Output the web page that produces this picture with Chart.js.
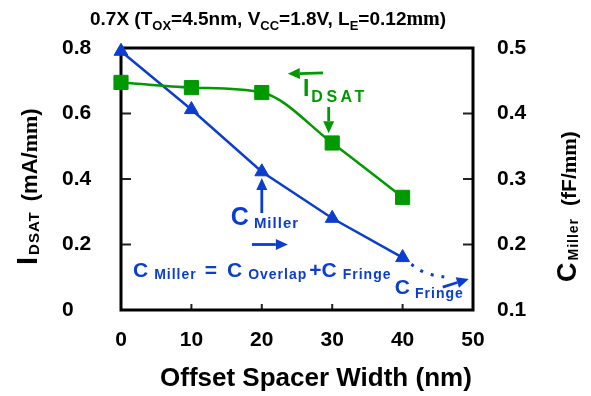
<!DOCTYPE html>
<html>
<head>
<meta charset="utf-8">
<script src="https://cdn.jsdelivr.net/npm/chart.js@4.4.0/dist/chart.umd.min.js"></script>
<style>
  html, body { margin: 0; padding: 0; background: #fff; }
</style>
</head>
<body>
<canvas id="myChart" width="591" height="396"></canvas>
<script>
// spacer width (nm) vs drive current and Miller capacitance
const spacerWidth = [0, 10, 20, 30, 40];
const idsat = [0.695, 0.679, 0.664, 0.51, 0.344];
const cMiller = [0.495, 0.406, 0.311, 0.24, 0.18];
// fringe-only tail beyond 40 nm
const fringeWidth = [40, 43, 46.5];
const cFringe = [0.18, 0.158, 0.149];

const xTicks = [0, 10, 20, 30, 40, 50];
const idsatTicks = [0, 0.2, 0.4, 0.6, 0.8];
const cMillerTicks = [0.1, 0.2, 0.3, 0.4, 0.5];

const GREEN = "#009900";
const BLUE = "#0b3dcf";
const SANS = "'Liberation Sans', Arial, sans-serif";
const SERIF = "'Liberation Serif', 'Times New Roman', serif";

function bold(px) {
  return "bold " + px + "px " + SANS;
}

function drawRuns(ctx, x, y, runs, color) {
  ctx.save();
  ctx.fillStyle = color;
  ctx.textAlign = "left";
  ctx.textBaseline = "alphabetic";
  runs.forEach((r) => {
    ctx.font = r.f;
    ctx.letterSpacing = (r.ls || 0) + "px";
    x += r.gap || 0;
    ctx.fillText(r.t, x, y + (r.dy || 0));
    x += ctx.measureText(r.t).width;
  });
  ctx.restore();
}

function arrow(ctx, x1, y1, x2, y2, color) {
  const a = Math.atan2(y2 - y1, x2 - x1);
  const head = 12;
  const half = 5.5;
  ctx.save();
  ctx.strokeStyle = color;
  ctx.fillStyle = color;
  ctx.lineWidth = 2.8;
  ctx.beginPath();
  ctx.moveTo(x1, y1);
  ctx.lineTo(x2 - head * Math.cos(a), y2 - head * Math.sin(a));
  ctx.stroke();
  ctx.translate(x2, y2);
  ctx.rotate(a);
  ctx.beginPath();
  ctx.moveTo(0, 0);
  ctx.lineTo(-head, -half);
  ctx.lineTo(-head, half);
  ctx.closePath();
  ctx.fill();
  ctx.restore();
}

const decor = {
  id: "decor",
  beforeDatasetsDraw(chart) {
    const { ctx, chartArea: a, scales } = chart;
    ctx.save();
    // inward tick marks
    ctx.strokeStyle = "#222";
    ctx.lineWidth = 2;
    ctx.beginPath();
    [0.2, 0.4, 0.6].forEach((v) => {
      const y = scales.y.getPixelForValue(v);
      ctx.moveTo(a.left, y);
      ctx.lineTo(a.left + 10, y);
    });
    [0.2, 0.3, 0.4].forEach((v) => {
      const y = scales.y1.getPixelForValue(v);
      ctx.moveTo(a.right, y);
      ctx.lineTo(a.right - 10, y);
    });
    [10, 20, 30, 40].forEach((v) => {
      const x = scales.x.getPixelForValue(v);
      ctx.moveTo(x, a.bottom);
      ctx.lineTo(x, a.bottom - 6);
    });
    ctx.stroke();
    // frame
    ctx.strokeStyle = "#000";
    ctx.lineWidth = 3;
    ctx.strokeRect(a.left, a.top, a.right - a.left, a.bottom - a.top);
    ctx.restore();
  },
  afterDraw(chart) {
    const { ctx, scales } = chart;
    const px = (v) => scales.x.getPixelForValue(v);
    const py = (v) => scales.y.getPixelForValue(v);

    // title
    drawRuns(ctx, 90, 25, [
      { t: "0.7X (T", f: bold(19) },
      { t: "OX", f: bold(13), dy: 5 },
      { t: "=4.5nm, V", f: bold(19) },
      { t: "CC", f: bold(13), dy: 5 },
      { t: "=1.8V, L", f: bold(19) },
      { t: "E", f: bold(13), dy: 5 },
      { t: "=0.12", f: bold(19) },
      { t: "mm", f: "bold 20px " + SERIF },
      { t: ")", f: bold(19) },
    ], "#000");

    // x axis title
    drawRuns(ctx, 160, 386, [
      { t: "Offset Spacer Width (nm)", f: bold(26) },
    ], "#000");

    // left axis title
    ctx.save();
    ctx.translate(37, 265);
    ctx.rotate(-Math.PI / 2);
    drawRuns(ctx, 0, 0, [
      { t: "I", f: bold(29) },
      { t: "DSAT", f: bold(15), dy: 2, ls: 1, gap: 2 },
      { t: "(mA/", f: bold(22), gap: 10 },
      { t: "mm", f: "bold 22px " + SERIF },
      { t: ")", f: bold(22) },
    ], "#000");
    ctx.restore();

    // right axis title
    ctx.save();
    ctx.translate(576, 282);
    ctx.rotate(-Math.PI / 2);
    drawRuns(ctx, 0, 0, [
      { t: "C", f: bold(27) },
      { t: "Miller", f: bold(14), dy: 2, ls: 1, gap: 2 },
      { t: "(fF/", f: bold(21), gap: 12 },
      { t: "mm", f: "bold 21px " + SERIF },
      { t: ")", f: bold(21) },
    ], "#000");
    ctx.restore();

    // I_DSAT callout
    drawRuns(ctx, px(25.85), py(0.653), [
      { t: "I", f: bold(23) },
      { t: "DSAT", f: bold(16), dy: 6, ls: 3.5, gap: 2 },
    ], GREEN);
    arrow(ctx, px(28.7), py(0.724), px(23.7), py(0.721), GREEN);
    arrow(ctx, px(29.5), py(0.62), px(29.5), py(0.54), GREEN);

    // C_Miller callout
    drawRuns(ctx, px(15.6), py(0.26), [
      { t: "C", f: bold(25) },
      { t: "Miller", f: bold(15), dy: 3, ls: 1, gap: 5 },
    ], BLUE);
    arrow(ctx, px(20), py(0.296), px(20), py(0.403), BLUE);
    arrow(ctx, px(18.6), py(0.2), px(23.7), py(0.2), BLUE);

    // C_Miller = C_Overlap + C_Fringe
    drawRuns(ctx, px(1.7), py(0.1), [
      { t: "C", f: bold(21) },
      { t: "Miller", f: bold(14), dy: 2, ls: 1, gap: 6 },
      { t: "=", f: bold(21), gap: 8 },
      { t: "C", f: bold(21), gap: 10 },
      { t: "Overlap", f: bold(14), dy: 2, ls: 1, gap: 6 },
      { t: "+C", f: bold(21), gap: 2 },
      { t: "Fringe", f: bold(14), dy: 2, ls: 1, gap: 6 },
    ], BLUE);

    // C_Fringe callout
    drawRuns(ctx, px(38.9), py(0.049), [
      { t: "C", f: bold(21) },
      { t: "Fringe", f: bold(14), dy: 4, ls: 1, gap: 5 },
    ], BLUE);
    arrow(ctx, px(45.7), py(0.07), px(49.4), py(0.095), BLUE);
  },
};

const tickFont = { family: SANS, size: 21, weight: "bold" };

const ctx = document.getElementById("myChart").getContext("2d");
const myChart = new Chart(ctx, {
  type: "line",
  data: {
    datasets: [
      {
        label: "IDSAT",
        data: spacerWidth.map((x, i) => ({ x: x, y: idsat[i] })),
        yAxisID: "y",
        borderColor: GREEN,
        backgroundColor: GREEN,
        borderWidth: 2.5,
        pointStyle: "rect",
        pointRadius: 10,
        pointBorderWidth: 1,
        cubicInterpolationMode: "monotone",
        clip: false,
      },
      {
        label: "CMiller",
        data: spacerWidth.map((x, i) => ({ x: x, y: cMiller[i] })),
        yAxisID: "y1",
        borderColor: BLUE,
        backgroundColor: BLUE,
        borderWidth: 2.5,
        pointStyle: "triangle",
        pointRadius: 8,
        pointBorderWidth: 1,
        tension: 0,
        clip: false,
      },
      {
        label: "CFringe",
        data: fringeWidth.map((x, i) => ({ x: x, y: cFringe[i] })),
        yAxisID: "y1",
        borderColor: BLUE,
        borderWidth: 3,
        borderDash: [3, 8],
        pointRadius: 0,
        tension: 0.4,
        clip: false,
      },
    ],
  },
  options: {
    responsive: false,
    animation: false,
    layout: { padding: { left: 62, right: 0, top: 48, bottom: 0 } },
    plugins: {
      legend: { display: false },
      tooltip: { enabled: false },
    },
    scales: {
      x: {
        type: "linear",
        min: 0,
        max: 50,
        afterBuildTicks: (s) => { s.ticks = xTicks.map((v) => ({ value: v })); },
        afterFit: (s) => { s.height = 86; },
        grid: { display: false, drawTicks: false },
        border: { display: false },
        ticks: { font: tickFont, color: "#000", padding: 18 },
      },
      y: {
        position: "left",
        min: 0,
        max: 0.8,
        afterBuildTicks: (s) => { s.ticks = idsatTicks.map((v) => ({ value: v })); },
        afterFit: (s) => { s.width = 59; },
        grid: { display: false, drawTicks: false },
        border: { display: false },
        ticks: { font: tickFont, color: "#000", crossAlign: "far", padding: 0 },
      },
      y1: {
        position: "right",
        min: 0.1,
        max: 0.5,
        afterBuildTicks: (s) => { s.ticks = cMillerTicks.map((v) => ({ value: v })); },
        afterFit: (s) => { s.width = 118; },
        grid: { display: false, drawTicks: false },
        border: { display: false },
        ticks: { font: tickFont, color: "#000", padding: 24 },
      },
    },
  },
  plugins: [decor],
});
</script>
</body>
</html>
